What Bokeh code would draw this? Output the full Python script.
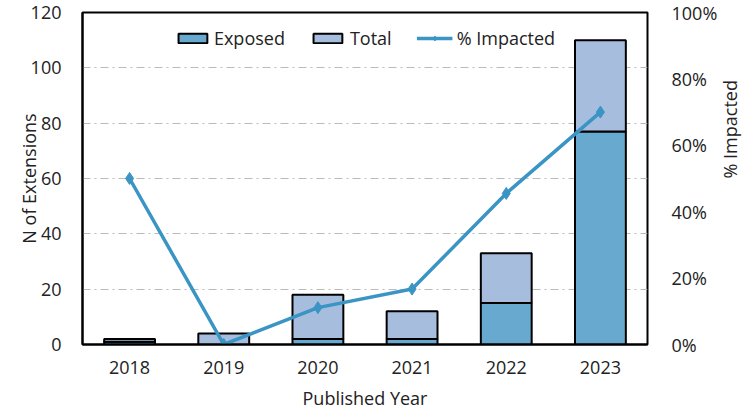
import math
from bokeh.plotting import figure
from bokeh.models import (Range1d, LinearAxis, NumeralTickFormatter, ColumnDataSource, Legend,
                          LegendItem, FixedTicker)
from bokeh.embed import file_html
from bokeh.resources import INLINE

years = ["2018", "2019", "2020", "2021", "2022", "2023"]
exposed = [1, 0, 2, 2, 15, 77]
total = [2, 4, 18, 12, 33, 110]
pct_impacted = [0.50, 0.0, 0.111, 0.167, 0.455, 0.70]

src = ColumnDataSource(dict(years=years, exposed=exposed, total=total, pct=pct_impacted,
                            zero=[0]*len(years)))

FONT = "Open Sans"
FS = "18px"
p = figure(x_range=years, y_range=Range1d(0, 120),
           frame_width=565, frame_height=332,
           output_backend="svg", toolbar_location=None,
           min_border_left=82, min_border_right=100, min_border_top=12, min_border_bottom=66)
p.extra_y_ranges = {"pct": Range1d(0, 1)}

r_exp = p.vbar(x="years", bottom="zero", top="exposed", width=0.54, source=src,
               fill_color="#67A9CF", line_color="black", line_width=2)
r_tot = p.vbar(x="years", bottom="exposed", top="total", width=0.54, source=src,
               fill_color="#A6BDDD", line_color="black", line_width=2)
r_line = p.line(x="years", y="pct", source=src, y_range_name="pct",
                line_color="#3A94C4", line_width=3.5)
r_pts = p.scatter(x="years", y="pct", source=src, y_range_name="pct", marker="diamond",
                  size=12, fill_color="#3A94C4", line_color="#3A94C4")

right = LinearAxis(y_range_name="pct", axis_label="% Impacted",
                   formatter=NumeralTickFormatter(format="0%"),
                   ticker=FixedTicker(ticks=[0, 0.2, 0.4, 0.6, 0.8, 1.0]))
p.add_layout(right, "right")
try:
    right.axis_label_orientation = math.pi / 2
except Exception:
    pass

p.yaxis[0].ticker = FixedTicker(ticks=[0, 20, 40, 60, 80, 100, 120])
p.yaxis[0].axis_label = "N of Extensions"
p.xaxis.axis_label = "Published Year"

for ax in p.axis:
    ax.major_label_text_font = FONT
    ax.major_label_text_font_size = FS
    ax.major_label_text_color = "#222222"
    ax.axis_label_text_font = FONT
    ax.axis_label_text_font_size = FS
    ax.axis_label_text_font_style = "normal"
    ax.axis_label_text_color = "#222222"
    ax.major_tick_line_color = None
    ax.minor_tick_line_color = None

right.axis_line_color = None
p.yaxis[0].axis_line_color = "black"
p.yaxis[0].axis_line_width = 2
p.xaxis.axis_line_color = "black"
p.xaxis.axis_line_width = 2
p.yaxis[0].major_label_standoff = 15
p.yaxis[0].axis_label_standoff = -13
right.major_label_standoff = 18
right.axis_label_standoff = 10
p.xaxis.major_label_standoff = 10
p.xaxis.axis_label_standoff = 9

p.outline_line_color = "black"
p.outline_line_width = 2
p.outline_line_alpha = 1

p.xgrid.grid_line_color = None
p.ygrid.grid_line_color = "#BBBBBB"
p.ygrid.grid_line_dash = "8 4 2 4"
p.ygrid.grid_line_width = 1

legend = Legend(items=[
    LegendItem(label="Exposed", renderers=[r_exp]),
    LegendItem(label="Total", renderers=[r_tot]),
    LegendItem(label="% Impacted", renderers=[r_line, r_pts]),
], orientation="horizontal", location="top_center")
legend.label_text_font = FONT
legend.label_text_font_size = FS
legend.label_text_color = "#222222"
legend.background_fill_alpha = 0
legend.border_line_color = None
legend.glyph_width = 36
legend.glyph_height = 12
legend.spacing = 25
legend.label_standoff = 4
legend.margin = 14
legend.padding = 4
p.add_layout(legend, "center")

open("out.html", "w").write(file_html(p, INLINE))
